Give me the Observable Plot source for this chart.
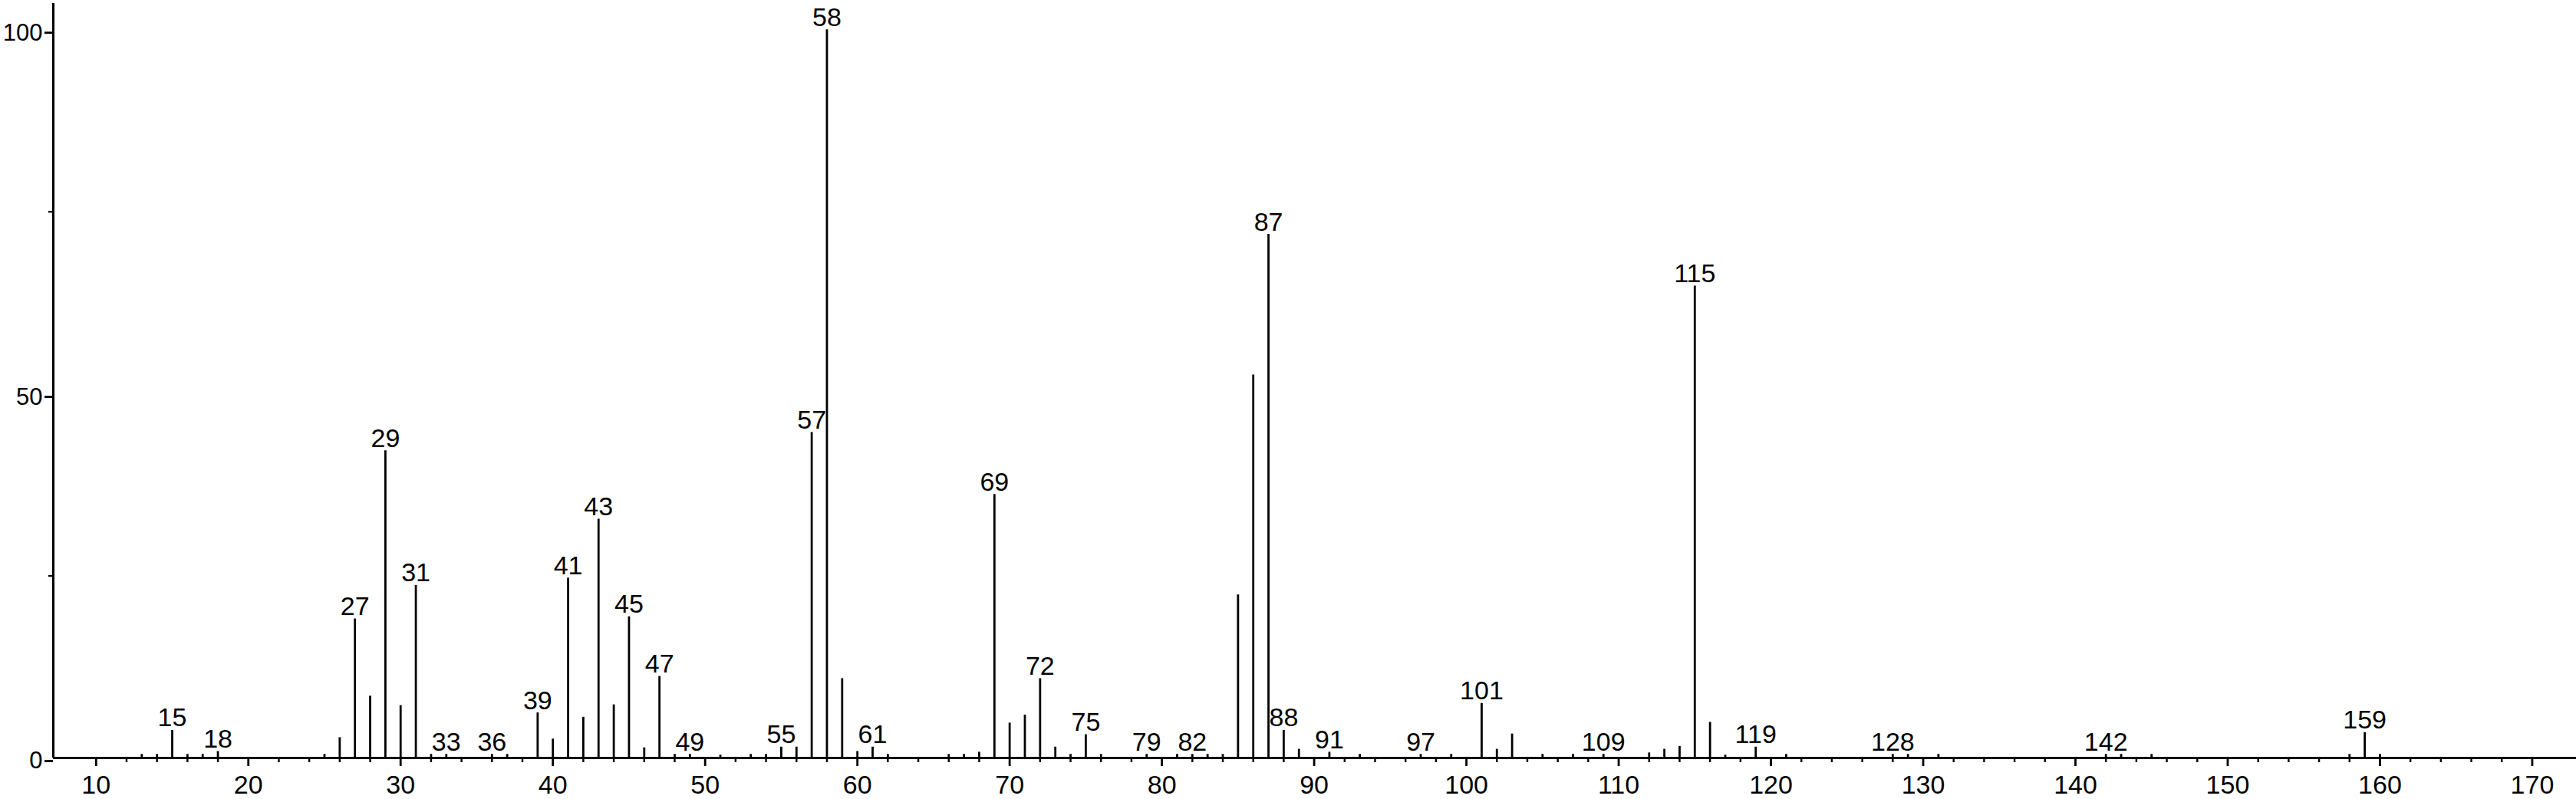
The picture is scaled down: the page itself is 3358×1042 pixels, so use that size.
<!DOCTYPE html>
<html>
<head>
<meta charset="utf-8">
<script src="https://cdn.jsdelivr.net/npm/d3@7"></script>
<script src="https://cdn.jsdelivr.net/npm/@observablehq/plot@0.6"></script>
<style>
  html, body { margin: 0; padding: 0; background: #ffffff; }
  #chart svg { display: block; }
</style>
</head>
<body>
<div id="chart"></div>
<script>
// m/z values of the spectrum lines
const mz = [13, 14, 15, 16, 17, 18, 25, 26, 27, 28, 29, 30, 31, 32, 33, 36, 37,
  39, 40, 41, 42, 43, 44, 45, 46, 47, 48, 49, 51, 53, 54, 55, 56, 57, 58, 59, 60,
  61, 62, 66, 67, 68, 69, 70, 71, 72, 73, 74, 75, 76, 79, 81, 82, 83, 84, 85, 86,
  87, 88, 89, 91, 93, 97, 99, 101, 102, 103, 105, 107, 109, 112, 113, 114, 115,
  116, 117, 119, 121, 128, 129, 131, 142, 143, 145, 158, 159, 160];
// relative intensities (%)
const intensity = [0.5, 0.5, 3.8, 0.5, 0.5, 0.9, 0.5, 2.8, 19.1, 8.5, 42.2, 7.2, 23.7, 0.5, 0.5, 0.5, 0.5,
  6.2, 2.6, 24.7, 5.6, 32.8, 7.3, 19.4, 1.4, 11.2, 0.5, 0.5, 0.4, 0.5, 0.5, 1.5, 1.5, 44.7, 100, 10.9, 0.9,
  1.5, 0.5, 0.5, 0.5, 0.8, 36.2, 4.8, 5.9, 10.9, 1.5, 0.5, 3.2, 0.5, 0.5, 0.5, 0.5, 0.5, 0.5, 22.4, 52.6,
  71.9, 3.8, 1.2, 0.8, 0.5, 0.5, 0.5, 7.5, 1.2, 3.3, 0.5, 0.5, 0.5, 0.7, 1.2, 1.6, 64.8,
  4.9, 0.4, 1.5, 0.5, 0.5, 0.5, 0.5, 0.5, 0.5, 0.5, 0.5, 3.5, 0.5];
// lines that carry an m/z label
const labeledMz = [15, 18, 27, 29, 31, 33, 36, 39, 41, 43, 45, 47, 49, 55, 57, 58, 61,
  69, 72, 75, 79, 82, 87, 88, 91, 97, 101, 109, 115, 119, 128, 142, 159];
// axis ticks
const xMajorTicks = [10, 20, 30, 40, 50, 60, 70, 80, 90, 100, 110, 120, 130, 140, 150, 160, 170];
const xMinorTicks = [12, 14, 16, 18, 22, 24, 26, 28, 32, 34, 36, 38, 42, 44, 46, 48, 52, 54, 56, 58,
  62, 64, 66, 68, 72, 74, 76, 78, 82, 84, 86, 88, 92, 94, 96, 98, 102, 104, 106, 108,
  112, 114, 116, 118, 122, 124, 126, 128, 132, 134, 136, 138, 142, 144, 146, 148,
  152, 154, 156, 158, 162, 164, 166, 168];
const yMajorTicks = [0, 50, 100];
const yMinorTicks = [25, 75];
const xDomain = [7.19, 172.9];
const yDomain = [0, 103.6];

const peaks = mz.map((m, i) => ({mz: m, int: intensity[i]}));
const labeled = peaks.filter(d => labeledMz.includes(d.mz));

const font = "'Liberation Sans', Arial, Helvetica, sans-serif";

const chart = Plot.plot({
  width: 3358,
  height: 1042,
  marginLeft: 69,
  marginRight: 0,
  marginTop: 4,
  marginBottom: 54,
  style: {fontFamily: font, background: "#ffffff", color: "#000000"},
  x: {domain: xDomain, axis: null},
  y: {domain: yDomain, axis: null},
  marks: [
    Plot.ruleX(peaks, {x: "mz", y1: 0, y2: "int", stroke: "#000", strokeWidth: 2.8}),
    Plot.text(labeled, {x: "mz", y: "int", text: d => String(d.mz), lineAnchor: "bottom",
      dy: -5, fontSize: 34, fill: "#000"}),
    Plot.axisX({ticks: xMinorTicks, tickSize: 6, strokeWidth: 2.4, fill: "none", label: null}),
    Plot.axisX({ticks: xMajorTicks, tickSize: 11, tickPadding: 11, strokeWidth: 2.8,
      fontSize: 34, tickFormat: d => String(d), label: null}),
    Plot.axisY({ticks: yMinorTicks, tickSize: 6, strokeWidth: 2.4, fill: "none", label: null}),
    Plot.axisY({ticks: yMajorTicks, tickSize: 11, tickPadding: 3, strokeWidth: 2.8,
      fontSize: 31, dy: 4, tickFormat: d => String(d), label: null}),
    Plot.ruleY([0], {stroke: "#000", strokeWidth: 3}),
    Plot.ruleX([xDomain[0]], {stroke: "#000", strokeWidth: 3})
  ]
});
document.getElementById("chart").appendChild(chart);
</script>
</body>
</html>
